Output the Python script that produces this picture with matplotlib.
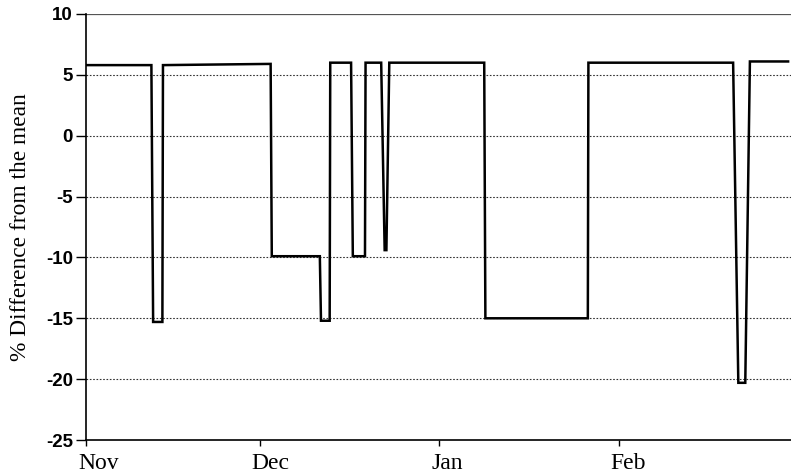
import matplotlib
matplotlib.use("Agg")
import matplotlib.pyplot as plt
from matplotlib.transforms import ScaledTranslation

# Data: day offset from Nov 1, % difference from the mean
days = [0, 11.3, 11.6, 13.2, 13.3, 31.9, 32.1, 40.4, 40.6, 42.1, 42.2,
        45.8, 46.1, 48.2, 48.3, 51.0, 51.6, 51.9, 52.4, 68.8, 69.0,
        86.7, 86.8, 111.8, 112.7, 113.9, 114.7, 121.3]
values = [5.8, 5.8, -15.3, -15.3, 5.8, 5.9, -9.9, -9.9, -15.2, -15.2, 6.0,
          6.0, -9.9, -9.9, 6.0, 6.0, -9.4, -9.4, 6.0, 6.0, -15.0,
          -15.0, 6.0, 6.0, -20.3, -20.3, 6.1, 6.1]
month_pos = [0, 30, 61, 92]
month_labels = ["Nov", "Dec", "Jan", "Feb"]
y_ticks = [-25, -20, -15, -10, -5, 0, 5, 10]

fig = plt.figure(figsize=(7.91, 4.76), dpi=100)
ax = fig.add_axes([0.1087, 0.0756, 0.8913, 0.895])

for yv in [-20, -15, -10, -5, 0, 5]:
    ax.axhline(yv, color="#333333", lw=0.8, ls=(0, (1.5, 1.5)), zorder=1)
ax.axhline(10, color="#555555", lw=0.9, zorder=1)

ax.plot(days, values, color="black", lw=1.8, zorder=3, solid_joinstyle="miter")

ax.set_xlim(0, 121.8)
ax.set_ylim(-25, 10)
ax.set_yticks(y_ticks)
ax.set_yticklabels([str(v) for v in y_ticks], family="Liberation Sans",
                   fontsize=13.5, fontweight="bold")
ax.set_xticks(month_pos)
ax.set_xticklabels([])
trans = ax.get_xaxis_transform() + ScaledTranslation(-8 / 100, -29 / 100,
                                                     fig.dpi_scale_trans)
for pos, name in zip(month_pos, month_labels):
    ax.text(pos, 0, name, transform=trans, ha="left", va="baseline",
            family="Liberation Serif", fontsize=17, clip_on=False)
ax.tick_params(axis="x", direction="out", length=4, width=1)
ax.tick_params(axis="y", direction="out", length=7, width=1, pad=2.5)

for s in ["top", "right"]:
    ax.spines[s].set_visible(False)
for s in ["left", "bottom"]:
    ax.spines[s].set_linewidth(1.2)

ax.set_ylabel("% Difference from the mean", family="Liberation Serif",
              fontsize=16.8)
ax.yaxis.set_label_coords(-0.078, 0.5)

fig.savefig("out.png", dpi=100)
